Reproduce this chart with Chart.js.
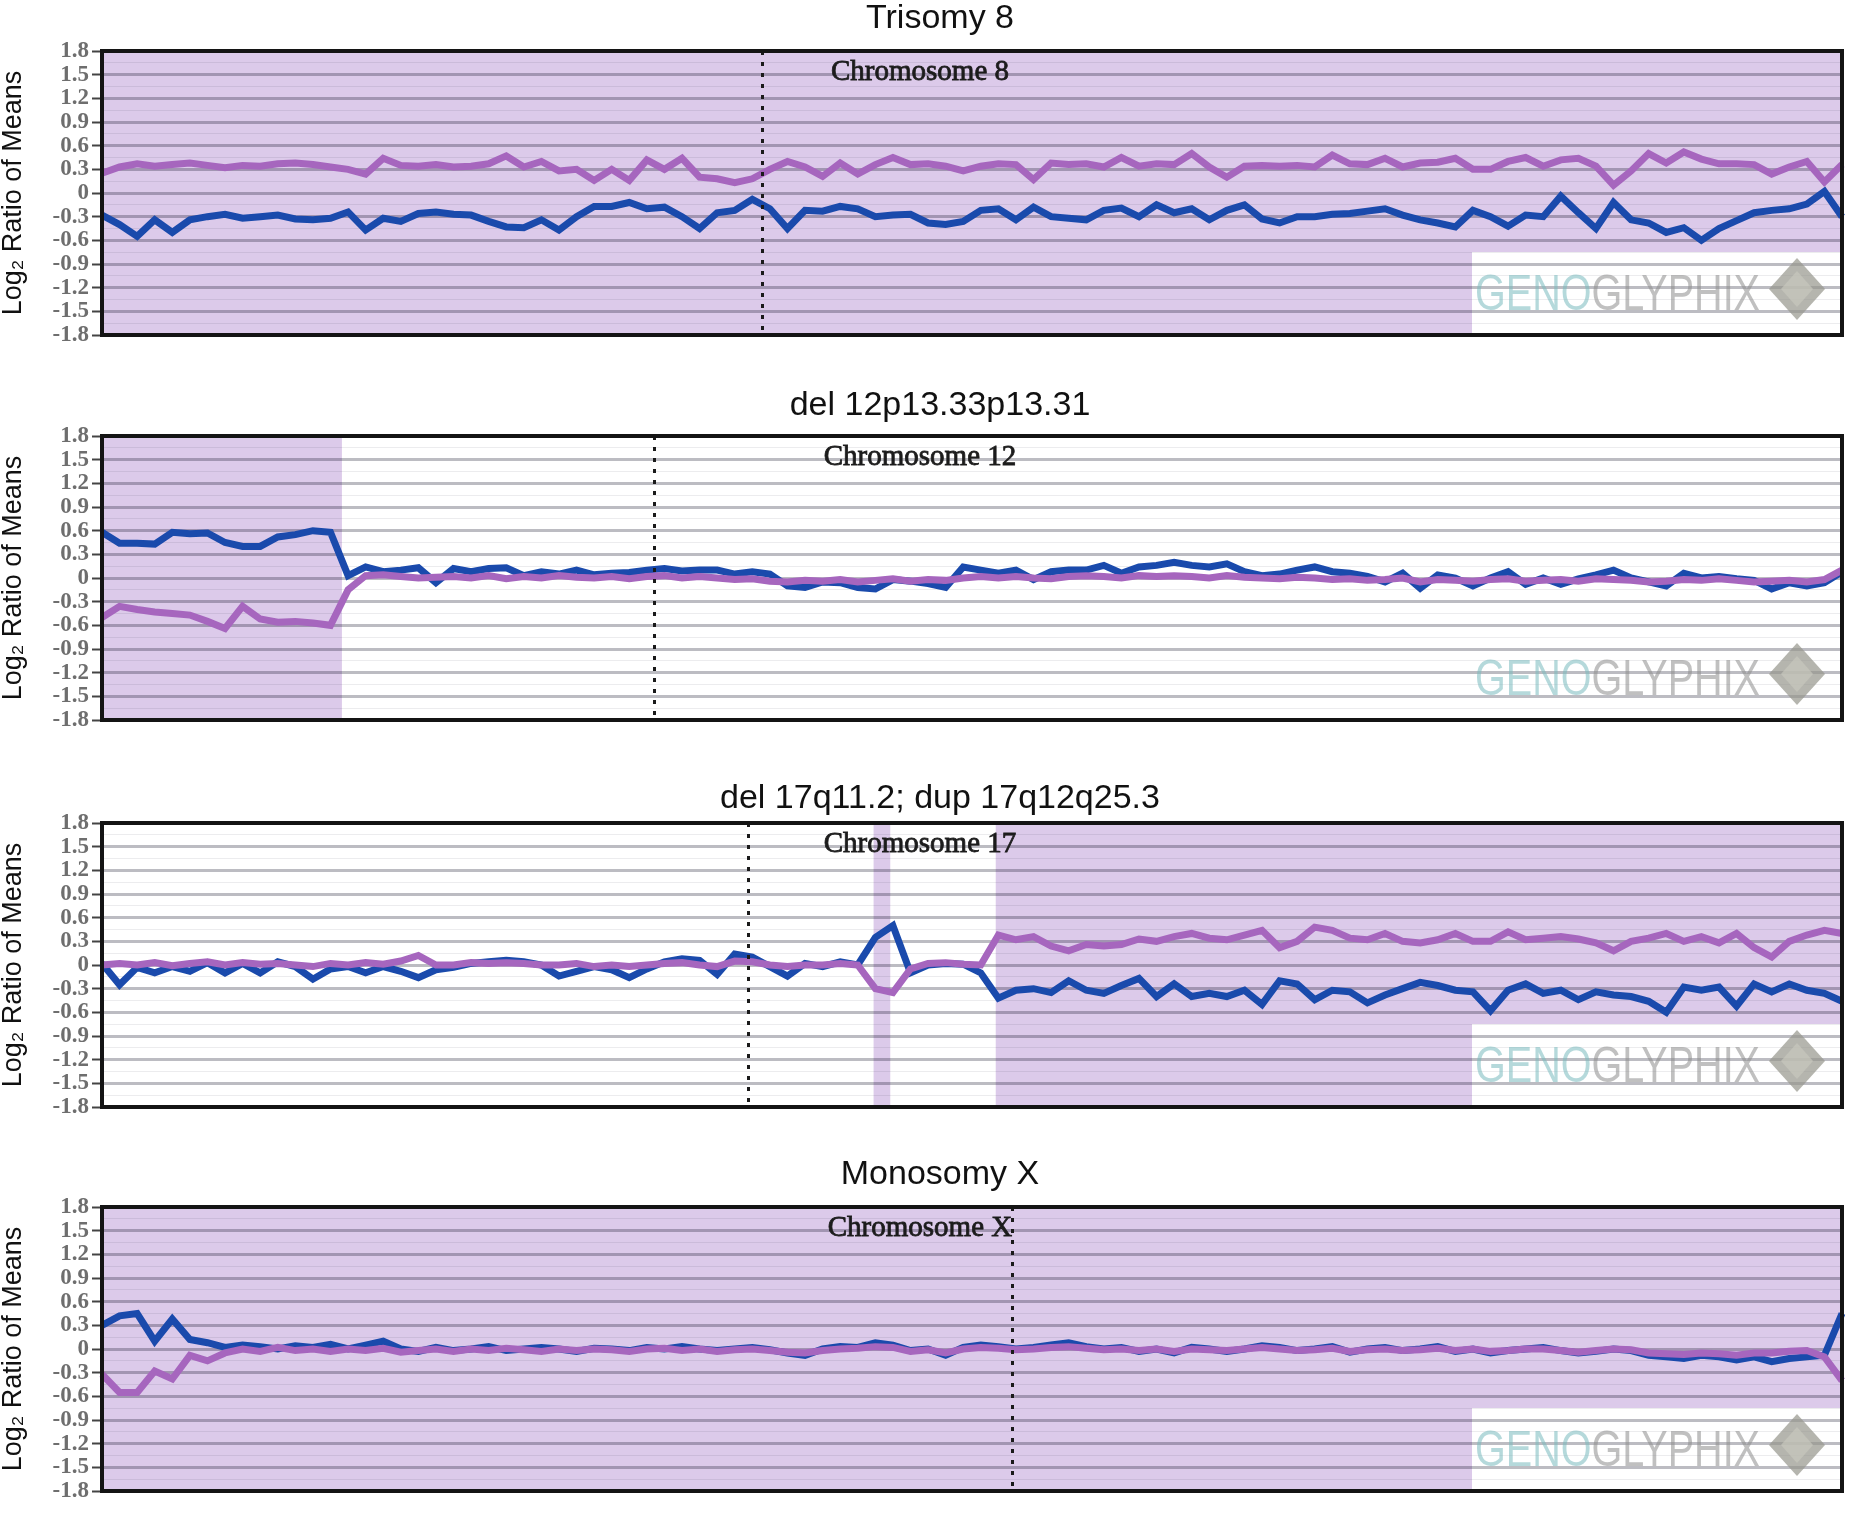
<!DOCTYPE html>
<html>
<head>
<meta charset="utf-8">
<script src="https://cdn.jsdelivr.net/npm/chart.js@4.4.1/dist/chart.umd.min.js"></script>
<style>
  html, body { margin: 0; padding: 0; background: #fff; }
  body { width: 1876px; height: 1517px; position: relative; overflow: hidden; }
  canvas { position: absolute; left: 0; }
</style>
</head>
<body>
<canvas id="c1" width="1876" height="369"></canvas>
<canvas id="c2" width="1876" height="369"></canvas>
<canvas id="c3" width="1876" height="369"></canvas>
<canvas id="c4" width="1876" height="369"></canvas>
<script>
/*
    Data (log2 ratio of means, 100 bins along each chromosome)
*/
const bins = Array.from({ length: 100 }, (_, i) => i);
const yMajor = [1.8, 1.5, 1.2, 0.9, 0.6, 0.3, 0, -0.3, -0.6, -0.9, -1.2, -1.5, -1.8];

// Trisomy 8
const t8Purple = [0.25, 0.33, 0.37, 0.34, 0.36, 0.38, 0.35, 0.32, 0.35, 0.34, 0.37, 0.38, 0.36, 0.33, 0.3, 0.24, 0.44, 0.35, 0.34, 0.36,
  0.33, 0.34, 0.37, 0.47, 0.33, 0.4, 0.28, 0.3, 0.16, 0.3, 0.16, 0.42, 0.3, 0.44, 0.2, 0.18, 0.13, 0.18, 0.3, 0.4,
  0.33, 0.21, 0.38, 0.24, 0.36, 0.45, 0.36, 0.37, 0.34, 0.28, 0.34, 0.37, 0.36, 0.17, 0.38, 0.36, 0.37, 0.33, 0.45, 0.34,
  0.37, 0.36, 0.5, 0.33, 0.2, 0.34, 0.35, 0.34, 0.35, 0.33, 0.48, 0.37, 0.36, 0.44, 0.33, 0.38, 0.39, 0.44, 0.3, 0.3,
  0.4, 0.45, 0.34, 0.42, 0.44, 0.34, 0.1, 0.28, 0.5, 0.38, 0.52, 0.43, 0.37, 0.37, 0.36, 0.24, 0.33, 0.4, 0.14, 0.36];
const t8Blue = [-0.28, -0.4, -0.55, -0.34, -0.5, -0.34, -0.3, -0.27, -0.32, -0.3, -0.28, -0.33, -0.34, -0.32, -0.24, -0.47, -0.32, -0.36, -0.26, -0.24,
  -0.27, -0.28, -0.36, -0.43, -0.44, -0.34, -0.47, -0.3, -0.17, -0.17, -0.12, -0.2, -0.18, -0.3, -0.45, -0.25, -0.22, -0.08, -0.2, -0.45,
  -0.22, -0.23, -0.17, -0.2, -0.3, -0.28, -0.27, -0.38, -0.4, -0.36, -0.22, -0.2, -0.34, -0.18, -0.3, -0.32, -0.34, -0.22, -0.19, -0.3,
  -0.15, -0.25, -0.2, -0.34, -0.22, -0.15, -0.33, -0.38, -0.3, -0.3, -0.27, -0.26, -0.23, -0.2, -0.28, -0.34, -0.38, -0.43, -0.22, -0.3,
  -0.42, -0.28, -0.3, -0.04, -0.25, -0.45, -0.12, -0.34, -0.38, -0.5, -0.44, -0.6, -0.45, -0.35, -0.25, -0.22, -0.2, -0.14, 0.02, -0.3];

// del 12p13.33p13.31
const d12Purple = [-0.5, -0.36, -0.4, -0.43, -0.45, -0.47, -0.55, -0.64, -0.36, -0.52, -0.56, -0.55, -0.57, -0.6, -0.15, 0.03, 0.04, 0.02, 0.0, 0.01,
  0.02, 0.0, 0.03, -0.01, 0.02, 0.0, 0.03, 0.01, 0.0, 0.02, -0.01, 0.02, 0.03, 0.0, 0.02, 0.0, -0.02, -0.01, -0.04, -0.05,
  -0.03, -0.04, -0.02, -0.05, -0.03, -0.01, -0.04, -0.02, -0.03, 0.0, 0.02, 0.0, 0.02, 0.0, -0.01, 0.02, 0.03, 0.02, 0.0, 0.03,
  0.02, 0.03, 0.02, 0.0, 0.03, 0.01, 0.0, -0.01, 0.01, 0.0, -0.02, -0.01, -0.03, -0.02, 0.0, -0.05, -0.02, -0.03, -0.04, -0.02,
  -0.01, -0.04, -0.03, -0.02, -0.04, -0.01, -0.02, -0.03, -0.05, -0.04, -0.02, -0.03, -0.01, -0.03, -0.05, -0.04, -0.03, -0.05, -0.02, 0.1];
const d12Blue = [0.58, 0.44, 0.44, 0.43, 0.58, 0.56, 0.57, 0.45, 0.4, 0.4, 0.52, 0.55, 0.6, 0.58, 0.03, 0.14, 0.08, 0.1, 0.13, -0.06,
  0.12, 0.08, 0.12, 0.13, 0.03, 0.08, 0.05, 0.1, 0.04, 0.06, 0.07, 0.1, 0.12, 0.09, 0.1, 0.1, 0.05, 0.08, 0.05, -0.1,
  -0.12, -0.05, -0.06, -0.12, -0.14, -0.02, -0.04, -0.07, -0.12, 0.14, 0.1, 0.06, 0.1, -0.02, 0.08, 0.1, 0.1, 0.16, 0.06, 0.14,
  0.16, 0.2, 0.16, 0.14, 0.18, 0.08, 0.03, 0.05, 0.1, 0.14, 0.08, 0.06, 0.02, -0.05, 0.06, -0.13, 0.04, 0.0, -0.1, 0.0,
  0.08, -0.08, 0.0, -0.08, -0.01, 0.04, 0.1, 0.0, -0.05, -0.1, 0.06, 0.0, 0.02, -0.01, -0.03, -0.14, -0.06, -0.1, -0.06, 0.08];

// del 17q11.2; dup 17q12q25.3
const c17Purple = [0.0, 0.02, 0.0, 0.03, -0.01, 0.02, 0.04, 0.0, 0.03, 0.01, 0.02, 0.0, -0.02, 0.02, 0.0, 0.03, 0.01, 0.05, 0.12, 0.0,
  0.0, 0.03, 0.02, 0.03, 0.02, 0.0, 0.0, 0.02, -0.02, 0.0, -0.02, 0.0, 0.02, 0.03, 0.0, -0.02, 0.05, 0.04, 0.0, -0.02,
  0.0, 0.0, 0.02, 0.0, -0.3, -0.35, -0.05, 0.02, 0.03, 0.01, 0.0, 0.38, 0.32, 0.36, 0.24, 0.18, 0.26, 0.24, 0.26, 0.33,
  0.3, 0.36, 0.4, 0.34, 0.32, 0.38, 0.44, 0.22, 0.3, 0.48, 0.44, 0.34, 0.32, 0.4, 0.3, 0.28, 0.32, 0.4, 0.3, 0.3,
  0.42, 0.32, 0.34, 0.36, 0.33, 0.28, 0.18, 0.3, 0.34, 0.4, 0.3, 0.36, 0.28, 0.4, 0.22, 0.1, 0.3, 0.38, 0.44, 0.4];
const c17Blue = [0.02, -0.25, -0.03, -0.1, -0.02, -0.08, 0.03, -0.1, 0.02, -0.1, 0.04, -0.02, -0.18, -0.05, -0.02, -0.1, -0.02, -0.08, -0.16, -0.06,
  -0.03, 0.02, 0.04, 0.06, 0.04, 0.0, -0.14, -0.08, -0.02, -0.06, -0.16, -0.05, 0.04, 0.08, 0.06, -0.12, 0.14, 0.1, -0.02, -0.14,
  0.02, -0.02, 0.04, 0.0, 0.35, 0.5, -0.1, 0.0, 0.02, 0.01, -0.1, -0.42, -0.32, -0.3, -0.35, -0.2, -0.32, -0.36, -0.26, -0.17,
  -0.4, -0.24, -0.4, -0.36, -0.4, -0.32, -0.5, -0.2, -0.24, -0.44, -0.32, -0.34, -0.48, -0.38, -0.3, -0.22, -0.26, -0.32, -0.34, -0.58,
  -0.32, -0.24, -0.36, -0.32, -0.44, -0.34, -0.38, -0.4, -0.46, -0.6, -0.28, -0.32, -0.28, -0.52, -0.24, -0.34, -0.24, -0.32, -0.36, -0.46];

// Monosomy X
const mxPurple = [-0.32, -0.55, -0.55, -0.28, -0.38, -0.08, -0.15, -0.05, 0.0, -0.03, 0.02, -0.02, 0.0, -0.03, 0.0, -0.02, 0.01, -0.04, -0.02, 0.0,
  -0.03, 0.0, -0.02, 0.01, -0.01, -0.03, 0.0, -0.02, 0.0, -0.01, -0.03, 0.0, 0.01, -0.02, 0.0, -0.03, -0.01, 0.0, -0.02, -0.04,
  -0.05, -0.02, 0.0, 0.01, 0.03, 0.02, -0.03, -0.01, -0.05, 0.0, 0.02, 0.01, -0.01, 0.0, 0.02, 0.03, 0.01, -0.01, 0.0, -0.02,
  0.0, -0.03, 0.0, -0.01, -0.02, 0.0, 0.02, 0.0, -0.02, -0.01, 0.01, -0.03, -0.01, 0.0, -0.02, -0.01, 0.01, -0.02, 0.0, -0.03,
  -0.02, 0.0, 0.0, -0.02, -0.04, -0.02, 0.0, -0.01, -0.05, -0.06, -0.07, -0.05, -0.06, -0.08, -0.05, -0.05, -0.03, -0.02, -0.1, -0.4];
const mxBlue = [0.3, 0.42, 0.45, 0.1, 0.38, 0.12, 0.08, 0.02, 0.05, 0.03, 0.0, 0.04, 0.02, 0.06, 0.0, 0.05, 0.1, 0.0, -0.03, 0.02,
  -0.02, 0.0, 0.03, -0.02, 0.0, 0.02, 0.0, -0.03, 0.01, 0.0, -0.02, 0.02, 0.0, 0.03, 0.0, -0.02, 0.0, 0.02, -0.01, -0.05,
  -0.08, 0.0, 0.03, 0.02, 0.08, 0.05, -0.02, 0.0, -0.08, 0.02, 0.05, 0.03, 0.0, 0.02, 0.05, 0.08, 0.03, 0.0, 0.02, -0.03,
  0.0, -0.05, 0.02, 0.0, -0.03, 0.0, 0.04, 0.02, -0.02, 0.0, 0.03, -0.04, 0.0, 0.02, -0.02, 0.0, 0.03, -0.03, 0.0, -0.05,
  -0.02, 0.0, 0.02, -0.02, -0.05, -0.03, 0.0, -0.02, -0.08, -0.1, -0.12, -0.08, -0.1, -0.14, -0.1, -0.16, -0.12, -0.1, -0.08, 0.45];

// shaded (called) regions and centromere, in bin units
const t8Shade = [[0, 99]];
const d12Shade = [[0, 13.65]];
const c17Shade = [[43.9, 44.85], [50.85, 99]];
const mxShade = [[0, 99]];

const panels = [
  { id: 'c1', plotTop: 51, title: 'Trisomy 8', chrom: 'Chromosome 8', purple: t8Purple, blue: t8Blue, shade: t8Shade, centromere: 37.55, titleGap: 23 },
  { id: 'c2', plotTop: 436, title: 'del 12p13.33p13.31', chrom: 'Chromosome 12', purple: d12Purple, blue: d12Blue, shade: d12Shade, centromere: 31.4, titleGap: 21 },
  { id: 'c3', plotTop: 823, title: 'del 17q11.2; dup 17q12q25.3', chrom: 'Chromosome 17', purple: c17Purple, blue: c17Blue, shade: c17Shade, centromere: 36.75, titleGap: 15 },
  { id: 'c4', plotTop: 1207, title: 'Monosomy X', chrom: 'Chromosome X', purple: mxPurple, blue: mxBlue, shade: mxShade, centromere: 51.8, titleGap: 23 }
];

const TOP_PAD = 60;
const SHADE = 'rgb(220, 202, 234)';

/*
    Panel decorations: shading, logo box, centromere, frame, titles
*/
const decor = {
  id: 'decor',
  beforeDatasetsDraw(chart) {
    const { ctx, chartArea: a, scales: { x } } = chart;
    const p = chart.options.plugins.decor;
    const bx = a.right - 370, by = a.bottom - 83;

    // shaded regions, multiplied over the grid so grid lines tint purple
    ctx.save();
    ctx.beginPath();
    ctx.rect(a.left, a.top, a.width, a.height);
    ctx.rect(bx, by, a.right - bx, a.bottom - by);
    ctx.clip('evenodd');
    ctx.globalCompositeOperation = 'multiply';
    ctx.fillStyle = SHADE;
    p.shade.forEach(([s, e]) => {
      const x0 = x.getPixelForValue(s), x1 = x.getPixelForValue(e);
      ctx.fillRect(x0, a.top, x1 - x0, a.height);
    });
    ctx.restore();

    // GENOGLYPHIX logo
    ctx.save();
    ctx.font = '50px "Liberation Sans", Arial, sans-serif';
    const w = ctx.measureText('GENOGLYPHIX').width;
    const sx = 285 / w;
    ctx.translate(a.right - 367, a.bottom - 25);
    ctx.scale(sx, 1);
    ctx.textBaseline = 'alphabetic';
    ctx.fillStyle = 'rgba(120, 185, 190, 0.55)';
    ctx.fillText('GENO', 0, 0);
    ctx.fillStyle = 'rgba(140, 140, 140, 0.55)';
    ctx.fillText('GLYPHIX', ctx.measureText('GENO').width, 0);
    ctx.restore();

    const dx = a.right - 45, dy = a.bottom - 46;
    ctx.save();
    ctx.fillStyle = 'rgba(150, 150, 140, 0.7)';
    ctx.beginPath();
    ctx.moveTo(dx, dy - 31); ctx.lineTo(dx + 28, dy); ctx.lineTo(dx, dy + 31); ctx.lineTo(dx - 28, dy);
    ctx.closePath();
    ctx.fill();
    ctx.fillStyle = 'rgba(200, 200, 190, 0.7)';
    ctx.beginPath();
    ctx.moveTo(dx, dy - 18); ctx.lineTo(dx + 16, dy); ctx.lineTo(dx, dy + 18); ctx.lineTo(dx - 16, dy);
    ctx.closePath();
    ctx.fill();
    ctx.restore();
  },
  afterDatasetsDraw(chart) {
    const { ctx, chartArea: a, scales: { x } } = chart;
    const p = chart.options.plugins.decor;
    // centromere
    const cx = Math.round(x.getPixelForValue(p.centromere)) + 0.5;
    ctx.save();
    ctx.strokeStyle = '#1a1a1a';
    ctx.lineWidth = 3;
    ctx.setLineDash([4, 7]);
    ctx.beginPath();
    ctx.moveTo(cx, a.top);
    ctx.lineTo(cx, a.bottom);
    ctx.stroke();
    ctx.restore();
  },
  afterDraw(chart) {
    const { ctx, chartArea: a } = chart;
    const p = chart.options.plugins.decor;
    ctx.save();
    ctx.strokeStyle = '#141414';
    ctx.lineWidth = 4;
    ctx.strokeRect(a.left, a.top, a.width, a.height);

    ctx.fillStyle = '#1c1c1c';
    ctx.strokeStyle = '#1c1c1c';
    ctx.lineWidth = 0.8;
    ctx.textAlign = 'center';
    ctx.textBaseline = 'alphabetic';
    ctx.font = '29px "Liberation Serif", "Times New Roman", serif';
    ctx.fillText(p.chrom, 920, a.top + 29);
    ctx.strokeText(p.chrom, 920, a.top + 29);

    ctx.fillStyle = '#111';
    ctx.font = '34px "Liberation Sans", Arial, sans-serif';
    ctx.fillText(p.title, 940, a.top - p.titleGap);
    ctx.restore();
  }
};

const isMajor = v => yMajor.includes(v);

panels.forEach(p => {
  const canvas = document.getElementById(p.id);
  canvas.style.top = (p.plotTop - TOP_PAD) + 'px';
  new Chart(canvas.getContext('2d'), {
    type: 'line',
    data: {
      labels: bins,
      datasets: [{
        label: 'purple',
        data: p.purple,
        borderColor: 'rgb(166, 102, 190)',
        borderWidth: 7,
        pointRadius: 0,
        fill: false
      }, {
        label: 'blue',
        data: p.blue,
        borderColor: 'rgb(26, 74, 172)',
        borderWidth: 7,
        pointRadius: 0,
        fill: false
      }]
    },
    options: {
      animation: false,
      responsive: false,
      layout: { padding: { top: TOP_PAD, bottom: 25, left: 0, right: 34 } },
      plugins: {
        legend: { display: false },
        tooltip: { enabled: false },
        decor: { shade: p.shade, centromere: p.centromere, chrom: p.chrom, title: p.title, titleGap: p.titleGap }
      },
      scales: {
        x: { display: false },
        y: {
          min: -1.8,
          max: 1.8,
          afterBuildTicks(scale) {
            const vals = [];
            yMajor.forEach((v, i) => {
              vals.push(v);
              if (i < yMajor.length - 1) vals.push((v + yMajor[i + 1]) / 2);
            });
            scale.ticks = vals.map(v => ({ value: v }));
          },
          afterFit(scale) { scale.width = 102; },
          ticks: {
            autoSkip: false,
            padding: 3,
            color: '#6e6e6e',
            font: { family: '"Liberation Serif", "Times New Roman", serif', size: 23, weight: 'bold' },
            callback: v => isMajor(v) ? (v === 0 ? '0' : v.toFixed(1)) : ''
          },
          grid: {
            color: c => isMajor(c.tick.value) ? 'rgb(188, 188, 194)' : 'rgb(236, 236, 238)',
            lineWidth: c => isMajor(c.tick.value) ? 3 : 1,
            tickLength: 10,
            tickColor: c => isMajor(c.tick.value) ? '#444' : 'rgba(0,0,0,0)',
            tickWidth: 2
          },
          border: { display: false },
          title: {
            display: true,
            text: 'Log₂ Ratio of Means',
            color: '#111',
            padding: 0,
            font: { family: '"Liberation Sans", Arial, sans-serif', size: 27, lineHeight: 1 }
          }
        }
      }
    },
    plugins: [decor]
  });
});
</script>
</body>
</html>
